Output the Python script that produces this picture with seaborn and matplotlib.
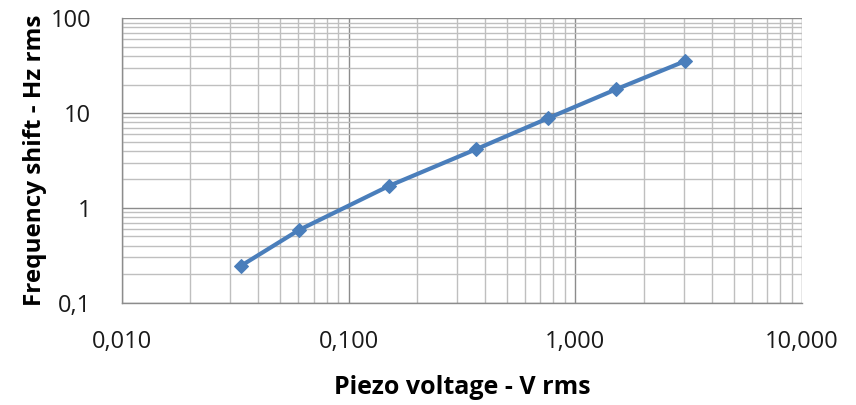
import matplotlib
matplotlib.use("Agg")
import matplotlib.pyplot as plt
import seaborn as sns
import pandas as pd
from matplotlib.ticker import LogLocator, NullFormatter

voltage = [0.0334, 0.0604, 0.151, 0.364, 0.755, 1.51, 3.06]
shift = [0.244, 0.585, 1.71, 4.15, 8.8, 17.8, 35.5]
x_ticks = [0.01, 0.1, 1, 10]
x_labels = ["0,010", "0,100", "1,000", "10,000"]
y_ticks = [0.1, 1, 10, 100]
y_labels = ["0,1", "1", "10", "100"]

sns.set_theme(style="white")
plt.rcParams['font.family'] = ['Open Sans', 'DejaVu Sans']

df = pd.DataFrame({"Piezo voltage": voltage, "Frequency shift": shift})

fig = plt.figure(figsize=(8.56, 4.05), dpi=100)
ax = fig.add_axes([0.1425, 0.2526, 0.7945, 0.7022])

sns.lineplot(data=df, x="Piezo voltage", y="Frequency shift", ax=ax,
             color="#4a7ebb", linewidth=3, marker="D", markersize=7.5,
             markeredgecolor="#4a7ebb", zorder=5)

ax.set_xscale("log")
ax.set_yscale("log")
ax.set_xlim(0.01, 10)
ax.set_ylim(0.1, 100)

ax.xaxis.set_minor_locator(LogLocator(base=10, subs=range(2, 10)))
ax.yaxis.set_minor_locator(LogLocator(base=10, subs=range(2, 10)))
ax.xaxis.set_minor_formatter(NullFormatter())
ax.yaxis.set_minor_formatter(NullFormatter())
ax.set_xticks(x_ticks, x_labels)
ax.set_yticks(y_ticks, y_labels)

ax.grid(True, which="major", color="#8c8c8c", linewidth=1.0)
ax.grid(True, which="minor", color="#bfbfbf", linewidth=1.0)
ax.set_axisbelow(True)

for side in ["top", "right"]:
    ax.spines[side].set_visible(False)
for side in ["left", "bottom"]:
    ax.spines[side].set_color("#8c8c8c")
    ax.spines[side].set_linewidth(1.0)

ax.tick_params(axis="both", which="major", direction="out", length=7,
               color="#8c8c8c", width=1, labelsize=17, labelcolor="#1a1a1a")
ax.tick_params(axis="x", which="major", length=7, pad=13)
ax.tick_params(axis="y", which="major", length=7, pad=15)
ax.tick_params(axis="both", which="minor", length=0)

ax.set_xlabel("Piezo voltage - V rms", fontsize=18, fontweight="bold",
              color="black", labelpad=15)
ax.set_ylabel("Frequency shift - Hz rms", fontsize=17.5, fontweight="bold",
              color="black", labelpad=3)

fig.savefig("out.png", dpi=100)
